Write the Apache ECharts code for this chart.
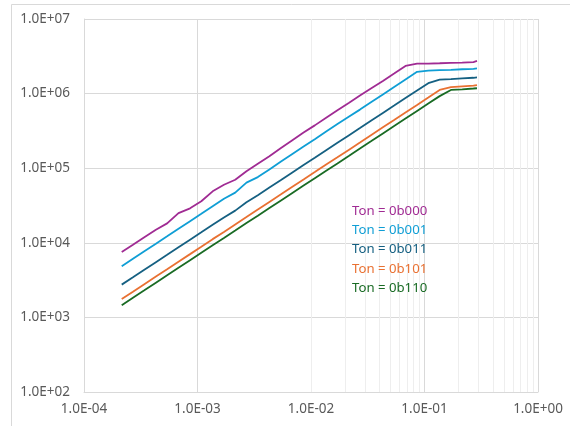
<!DOCTYPE html>
<html>
<head>
<meta charset="utf-8">
<script src="https://cdn.jsdelivr.net/npm/echarts@6/dist/echarts.min.js"></script>
<style>
html,body{margin:0;padding:0;background:#fff;}
#chart{width:570px;height:426px;}
</style>
</head>
<body>
<div id="chart"></div>
<script>
// x values (shared by all series)
const xValues = [2.15e-4, 2.7e-4, 3.4e-4, 4.3e-4, 5.4e-4, 6.8e-4, 8.6e-4, 1.08e-3, 1.36e-3, 1.71e-3,
  2.15e-3, 2.7e-3, 3.4e-3, 4.3e-3, 5.4e-3, 6.8e-3, 8.6e-3, 1.08e-2, 1.36e-2, 1.71e-2,
  2.15e-2, 2.7e-2, 3.4e-2, 4.3e-2, 5.4e-2, 6.8e-2, 8.6e-2, 0.108, 0.136, 0.171,
  0.215, 0.27, 0.29];

const seriesNames = ['Ton = 0b000', 'Ton = 0b001', 'Ton = 0b011', 'Ton = 0b101', 'Ton = 0b110'];

const ton000 = [7.5e3, 9.4e3, 1.19e4, 1.5e4, 1.82e4, 2.5e4, 2.9e4, 3.6e4, 4.9e4, 6.0e4,
  7.0e4, 9.1e4, 1.15e5, 1.45e5, 1.85e5, 2.35e5, 3.0e5, 3.75e5, 4.75e5, 6.0e5,
  7.5e5, 9.4e5, 1.18e6, 1.48e6, 1.86e6, 2.35e6, 2.52e6, 2.53e6, 2.55e6, 2.58e6,
  2.6e6, 2.65e6, 2.74e6];

const ton001 = [4.85e3, 6.1e3, 7.7e3, 9.7e3, 1.22e4, 1.54e4, 1.95e4, 2.45e4, 3.1e4, 3.9e4,
  4.7e4, 6.4e4, 7.6e4, 9.6e4, 1.22e5, 1.54e5, 1.95e5, 2.45e5, 3.1e5, 3.9e5,
  4.9e5, 6.1e5, 7.7e5, 9.7e5, 1.23e6, 1.55e6, 1.96e6, 2.03e6, 2.06e6, 2.08e6,
  2.12e6, 2.15e6, 2.18e6];

const ton011 = [2.75e3, 3.45e3, 4.35e3, 5.5e3, 6.9e3, 8.7e3, 1.1e4, 1.38e4, 1.74e4, 2.19e4,
  2.7e4, 3.5e4, 4.35e4, 5.5e4, 6.9e4, 8.7e4, 1.1e5, 1.38e5, 1.74e5, 2.19e5,
  2.75e5, 3.45e5, 4.35e5, 5.5e5, 6.9e5, 8.7e5, 1.1e6, 1.38e6, 1.54e6, 1.56e6,
  1.6e6, 1.63e6, 1.65e6];

const ton101 = [1.76e3, 2.21e3, 2.79e3, 3.53e3, 4.43e3, 5.58e3, 7.05e3, 8.86e3, 1.12e4, 1.4e4,
  1.76e4, 2.21e4, 2.79e4, 3.53e4, 4.43e4, 5.58e4, 7.05e4, 8.86e4, 1.12e5, 1.4e5,
  1.76e5, 2.21e5, 2.79e5, 3.53e5, 4.43e5, 5.58e5, 7.05e5, 8.86e5, 1.12e6, 1.22e6,
  1.25e6, 1.28e6, 1.30e6];

const ton110 = [1.46e3, 1.84e3, 2.31e3, 2.92e3, 3.67e3, 4.62e3, 5.85e3, 7.34e3, 9.25e3, 1.16e4,
  1.46e4, 1.84e4, 2.31e4, 2.92e4, 3.67e4, 4.62e4, 5.85e4, 7.34e4, 9.25e4, 1.16e5,
  1.46e5, 1.84e5, 2.31e5, 2.92e5, 3.67e5, 4.62e5, 5.85e5, 7.34e5, 9.25e5, 1.12e6,
  1.14e6, 1.17e6, 1.18e6];

const allValues = [ton000, ton001, ton011, ton101, ton110];
const colors = ['#A02B93', '#0F9ED5', '#156082', '#E97132', '#196B24'];

// minor gridline positions on the x axis (2..9 within each decade)
const minorMultipliers = [2, 3, 4, 5, 6, 7, 8, 9];
const decades = [1e-4, 1e-3, 1e-2, 1e-1];
const minorTicks = [];
decades.forEach(d => minorMultipliers.forEach(m => minorTicks.push(+(d * m).toPrecision(3))));

function sci(v) {
  const e = Math.round(Math.log10(v));
  const sign = e < 0 ? '-' : '+';
  const a = Math.abs(e);
  return '1.0E' + sign + (a < 10 ? '0' + a : a);
}

const font = '"Noto Sans", sans-serif';

const series = allValues.map((vals, i) => ({
  name: seriesNames[i],
  type: 'line',
  data: xValues.map((x, j) => [x, vals[j]]),
  showSymbol: false,
  symbol: 'none',
  smooth: false,
  lineStyle: { width: 1.8, color: colors[i] },
  itemStyle: { color: colors[i] },
  z: 3
}));

series.unshift({
  name: 'minor',
  type: 'line',
  data: [],
  silent: true,
  z: 1,
  markLine: {
    silent: true,
    z: 1,
    symbol: ['none', 'none'],
    animation: false,
    label: { show: false },
    emphasis: { disabled: true },
    lineStyle: { color: '#eeeeee', type: 'solid', width: 1 },
    data: minorTicks.map(v => ({ xAxis: v }))
  }
});

const legendText = { fontFamily: font, fontSize: 13.2 };

const chart = echarts.init(document.getElementById('chart'), null, { renderer: 'canvas' });
chart.setOption({
  animation: false,
  backgroundColor: '#ffffff',
  graphic: [{
    type: 'rect',
    shape: { x: 11.5, y: 4.5, width: 600, height: 460 },
    style: { fill: 'none', stroke: '#d9d9d9', lineWidth: 1 },
    silent: true
  }],
  grid: { left: 84, right: 32, top: 19, bottom: 34, containLabel: false },
  legend: {
    orient: 'vertical',
    left: 342,
    top: 199,
    padding: 5,
    itemWidth: 0,
    itemHeight: 14,
    itemGap: 5.3,
    icon: 'rect',
    selectedMode: false,
    data: seriesNames.map((n, i) => ({ name: n, textStyle: Object.assign({ color: colors[i] }, legendText) })),
    textStyle: legendText
  },
  xAxis: {
    type: 'log',
    logBase: 10,
    min: 1e-4,
    max: 1,
    axisLine: { show: true, lineStyle: { color: '#d9d9d9' } },
    axisTick: { show: false },
    splitLine: { show: true, lineStyle: { color: '#d9d9d9', width: 1 } },
    axisLabel: { formatter: sci, color: '#595959', fontFamily: font, fontSize: 13.5, margin: 10 }
  },
  yAxis: {
    type: 'log',
    logBase: 10,
    min: 100,
    max: 1e7,
    axisLine: { show: true, lineStyle: { color: '#d9d9d9' } },
    axisTick: { show: false },
    splitLine: { show: true, lineStyle: { color: '#d9d9d9', width: 1 } },
    axisLabel: { formatter: sci, color: '#595959', fontFamily: font, fontSize: 13.5, margin: 14 }
  },
  series: series
});
</script>
</body>
</html>
